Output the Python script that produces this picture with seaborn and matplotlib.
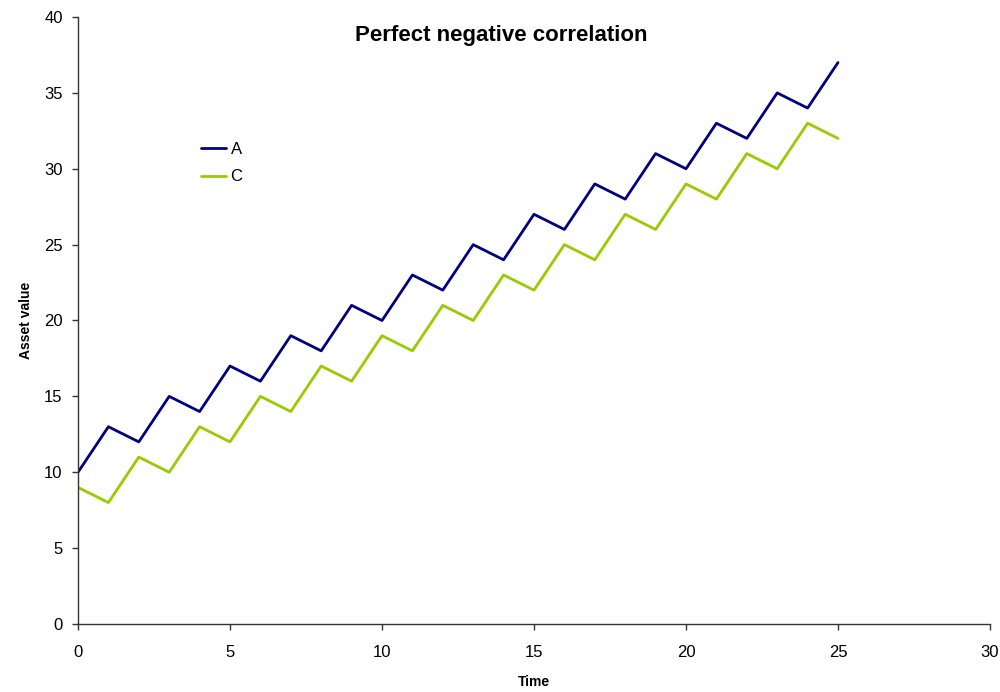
import matplotlib
matplotlib.use("Agg")
import matplotlib.pyplot as plt
import seaborn as sns
import pandas as pd

time = list(range(26))
asset_a = [10, 13, 12, 15, 14, 17, 16, 19, 18, 21, 20, 23, 22, 25, 24, 27,
           26, 29, 28, 31, 30, 33, 32, 35, 34, 37]
asset_c = [9, 8, 11, 10, 13, 12, 15, 14, 17, 16, 19, 18, 21, 20, 23, 22,
           25, 24, 27, 26, 29, 28, 31, 30, 33, 32]
series_names = ["A", "C"]
colors = ["#000080", "#99CC00"]

sns.set_theme(style="white")
plt.rcParams["font.family"] = ["Liberation Sans", "DejaVu Sans"]
plt.rcParams["text.color"] = "black"
plt.rcParams["axes.labelcolor"] = "black"

df = pd.DataFrame({"Time": time * 2,
                   "Asset value": asset_a + asset_c,
                   "Series": [series_names[0]] * len(time) + [series_names[1]] * len(time)})

fig = plt.figure(figsize=(10, 6.92), dpi=100)
ax = fig.add_axes([0.078, 0.0983, 0.912, 0.8771])

sns.lineplot(data=df, x="Time", y="Asset value", hue="Series",
             palette=dict(zip(series_names, colors)), linewidth=2, ax=ax)

ax.set_xlim(0, 30)
ax.set_ylim(0, 40)
ax.set_xticks(range(0, 31, 5))
ax.set_yticks(range(0, 41, 5))
ax.tick_params(axis="both", bottom=True, left=True, direction="out", length=4,
               width=1, colors="#333333", labelsize=12, labelcolor="black")
ax.tick_params(axis="x", pad=11)
ax.tick_params(axis="y", pad=7)
for side in ["top", "right"]:
    ax.spines[side].set_visible(False)
for side in ["left", "bottom"]:
    ax.spines[side].set_color("#333333")
    ax.spines[side].set_linewidth(1)

ax.set_xlabel("Time", fontsize=10, fontweight="bold", labelpad=11)
ax.set_ylabel("Asset value", fontsize=10, fontweight="bold", labelpad=8)
fig.text(0.5015, 0.949, "Perfect negative correlation", fontsize=16,
         fontweight="bold", ha="center", va="center", color="black")

leg = ax.legend(loc="upper left", bbox_to_anchor=(0.118, 0.819), frameon=False,
                fontsize=12, handlelength=1.5, handletextpad=0.3, labelspacing=0.75)
for txt in leg.get_texts():
    txt.set_color("black")

fig.savefig("out.png", dpi=100)
